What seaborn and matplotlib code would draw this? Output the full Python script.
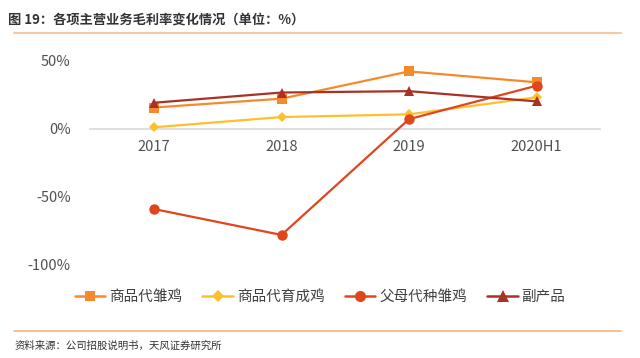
import matplotlib
matplotlib.use("Agg")
import matplotlib.pyplot as plt
import pandas as pd
import seaborn as sns
from matplotlib.lines import Line2D

periods = ["2017", "2018", "2019", "2020H1"]
chick_commercial = [15.5, 22, 42, 34]
grower_commercial = [1, 8.5, 10.5, 23]
chick_parent = [-59, -78, 7, 31.5]
by_product = [19, 26.5, 27.5, 20]
series_names = ["商品代雏鸡", "商品代育成鸡", "父母代种雏鸡", "副产品"]


def main():
    sns.set_theme(style="white")
    plt.rcParams["font.family"] = ["Noto Sans CJK SC", "DejaVu Sans"]

    df = pd.DataFrame({
        "period": periods * 4,
        "value": chick_commercial + grower_commercial + chick_parent + by_product,
        "series": [s for s in series_names for _ in periods],
    })

    colors = ["#F58A2C", "#FDBF2D", "#E0461C", "#A93226"]
    markers = ["s", "D", "o", "^"]
    msizes = [7, 5.5, 7.5, 7.5]
    palette = dict(zip(series_names, colors))

    fig = plt.figure(figsize=(6.4, 3.58), dpi=100)
    ax = fig.add_axes([0.141, 0.26, 0.797, 0.571])

    for name, m, ms in zip(series_names, markers, msizes):
        sub = df[df["series"] == name]
        sns.lineplot(data=sub, x="period", y="value", color=palette[name],
                     marker=m, markersize=ms, markeredgewidth=0, linewidth=1.6,
                     ax=ax, sort=False, clip_on=False)

    ax.set_xlim(-0.5, 3.5)
    ax.set_ylim(-100, 50)
    ax.set_yticks([-100, -50, 0, 50])
    ax.set_yticklabels(["-100%", "-50%", "0%", "50%"])
    ax.set_xlabel("")
    ax.set_ylabel("")
    for s in ["top", "right", "left"]:
        ax.spines[s].set_visible(False)
    ax.spines["bottom"].set_position(("data", 0))
    ax.spines["bottom"].set_color("#D9D9D9")
    ax.spines["bottom"].set_linewidth(1.2)
    ax.spines["bottom"].set_zorder(0)
    ax.tick_params(axis="both", length=0, labelsize=10.5, colors="#505050")
    ax.tick_params(axis="x", pad=8)
    ax.tick_params(axis="y", pad=14)

    handles = [Line2D([], [], color=c, marker=m, markersize=ms + 0.5, markeredgewidth=0, linewidth=1.8)
               for c, m, ms in zip(colors, markers, msizes)]
    fig.legend(handles, series_names, loc="center", bbox_to_anchor=(0.5, 0.17),
               ncol=4, frameon=False, fontsize=10.5, handlelength=2.1,
               columnspacing=1.4, handletextpad=0.25, labelcolor="#404040")

    fig.text(0.012, 0.944, "图 19：各项主营业务毛利率变化情况（单位：%）",
             fontsize=9.5, fontweight="bold", color="#333333", va="center")
    fig.add_artist(Line2D([0.022, 0.97], [0.908, 0.908], color="#F6C9A2", linewidth=1.5))
    fig.add_artist(Line2D([0.022, 0.97], [0.075, 0.075], color="#F5B482", linewidth=1.2))
    fig.text(0.022, 0.035, "资料来源：公司招股说明书，天风证券研究所",
             fontsize=7.5, color="#333333", va="center")

    fig.savefig("out.png", dpi=100, facecolor="white")


if __name__ == "__main__":
    main()
